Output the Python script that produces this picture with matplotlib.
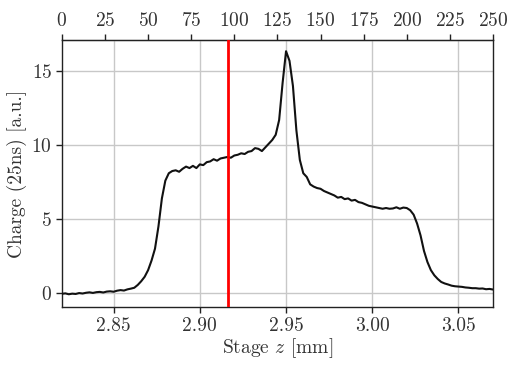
import numpy as np
import matplotlib
matplotlib.use("Agg")
import matplotlib.pyplot as plt

plt.rcParams.update({
    "font.family": "serif",
    "font.serif": ["cmr10"],
    "mathtext.fontset": "cm",
    "axes.unicode_minus": False,
    "axes.formatter.use_mathtext": True,
    "font.size": 14,
})

# Scan steps (stage offset in um from z0) and measured charge
z0 = 2.82
steps = np.arange(0, 251, 2)
charge = [
    -0.05, -0.02, -0.08, -0.04, -0.06, 0.00, -0.03, 0.02, 0.05, 0.01,
    0.06, 0.08, 0.04, 0.10, 0.12, 0.09, 0.16, 0.20, 0.17, 0.25,
    0.30, 0.36, 0.55, 0.80, 1.10, 1.55, 2.20, 3.00, 4.50, 6.40,
    7.60, 8.10, 8.25, 8.30, 8.20, 8.40, 8.55, 8.45, 8.60, 8.45,
    8.70, 8.65, 8.85, 8.90, 9.05, 8.95, 9.10, 9.15, 9.20, 9.15,
    9.30, 9.35, 9.45, 9.40, 9.55, 9.60, 9.80, 9.75, 9.60, 9.85,
    10.10, 10.35, 10.70, 11.70, 14.20, 16.35, 15.70, 14.00, 11.00, 9.00,
    8.10, 7.85, 7.35, 7.20, 7.10, 7.05, 6.90, 6.80, 6.70, 6.60,
    6.45, 6.50, 6.35, 6.40, 6.25, 6.30, 6.15, 6.10, 6.00, 5.90,
    5.85, 5.80, 5.75, 5.70, 5.75, 5.70, 5.72, 5.80, 5.70, 5.78,
    5.75, 5.60, 5.30, 4.70, 3.90, 2.85, 2.10, 1.55, 1.20, 0.95,
    0.75, 0.65, 0.58, 0.50, 0.46, 0.44, 0.42, 0.38, 0.36, 0.33,
    0.33, 0.30, 0.31, 0.26, 0.28, 0.24,
]
z = z0 + steps / 1000.0

marker_z = 2.9163
x_ticks = [2.85, 2.90, 2.95, 3.00, 3.05]
y_ticks = [0, 5, 10, 15]
top_ticks = np.arange(0, 251, 25)

fig = plt.figure(figsize=(5.2, 3.75), dpi=100)
ax = fig.add_axes([0.119, 0.181, 0.829, 0.712])

ax.plot(z, charge, color="#111111", lw=1.5, zorder=3)
ax.axvline(marker_z, color="red", lw=2, zorder=4)

ax.set_xlim(2.82, 3.07)
ax.set_ylim(-0.95, 17.1)
ax.set_xticks(x_ticks)
ax.set_xticklabels([f"{t:.2f}" for t in x_ticks])
ax.set_yticks(y_ticks)
ax.grid(True, color="#c8c8c8", lw=1.0, zorder=0)
ax.set_xlabel("Stage $z$ [mm]", labelpad=1, color="#333333")
ax.set_ylabel("Charge (25ns) [a.u.]", labelpad=3, color="#333333")
ax.tick_params(direction="out", length=4, width=1, colors="#222222",
               labelcolor="#333333", pad=3)

top = ax.secondary_xaxis("top", functions=(lambda v: (v - z0) * 1000.0,
                                           lambda s: z0 + s / 1000.0))
top.set_xticks(top_ticks)
top.tick_params(direction="out", length=4, width=1, colors="#222222",
                labelcolor="#333333", pad=3)

for sp in ax.spines.values():
    sp.set_color("#222222")
    sp.set_linewidth(1.0)

fig.savefig("out.png", dpi=100)
